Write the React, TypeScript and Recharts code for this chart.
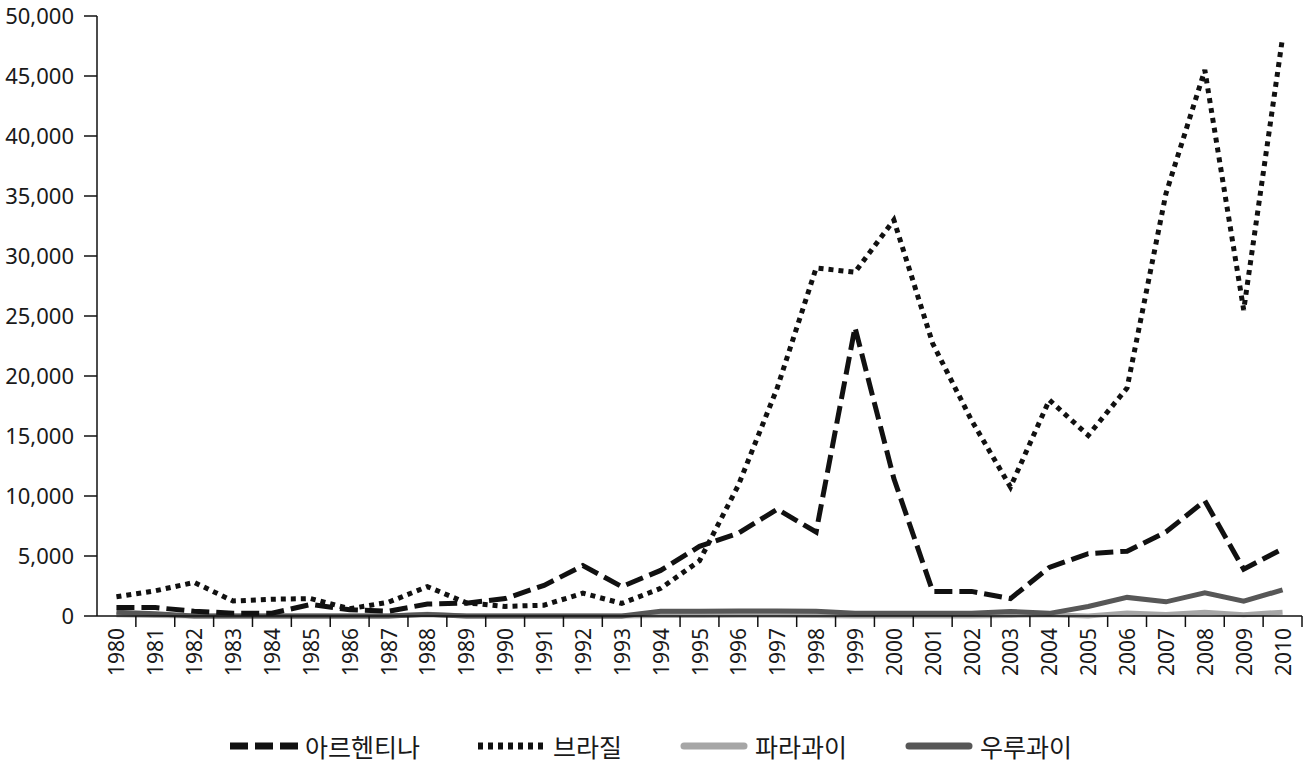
import { LineChart, Line, XAxis, YAxis, Legend } from 'recharts';

// 연도 (x축 카테고리)
const years = [
  '1980', '1981', '1982', '1983', '1984', '1985', '1986', '1987', '1988', '1989',
  '1990', '1991', '1992', '1993', '1994', '1995', '1996', '1997', '1998', '1999',
  '2000', '2001', '2002', '2003', '2004', '2005', '2006', '2007', '2008', '2009', '2010',
];

// values
const argentina = [
  700, 700, 400, 230, 230, 960, 520, 400, 1000, 1070,
  1450, 2550, 4200, 2450, 3800, 5800, 6900, 8900, 7000, 24050,
  11450, 2050, 2050, 1450, 4050, 5200, 5400, 7000, 9600, 3900, 5600,
];
const brazil = [
  1600, 2100, 2800, 1250, 1400, 1450, 600, 1150, 2450, 1100,
  800, 900, 1900, 1050, 2300, 4600, 10900, 19000, 29000, 28650,
  33000, 22700, 16300, 10750, 18000, 15050, 19000, 35200, 45500, 25500, 48200,
];
const paraguay = [
  100, 50, 0, 0, 0, 0, 0, 0, 150, 0,
  0, 0, 0, 0, 40, 40, 60, 60, 40, 0,
  0, 0, 0, 50, 100, 0, 260, 120, 320, 100, 320,
];
const uruguay = [
  320, 180, 0, 0, 0, 0, 0, 0, 120, 0,
  0, 0, 0, 0, 400, 400, 420, 420, 400, 230,
  230, 230, 230, 380, 220, 790, 1550, 1180, 1930, 1230, 2180,
];

const yTicks = [0, 5000, 10000, 15000, 20000, 25000, 30000, 35000, 40000, 45000, 50000];

const seriesNames = ['아르헨티나', '브라질', '파라과이', '우루과이'];

const data = years.map((year, i) => ({
  year,
  arg: argentina[i],
  bra: brazil[i],
  par: paraguay[i],
  uru: uruguay[i],
}));

const W = 1304;
const H = 762;
const LEFT = 97;
const RIGHT = 2;
const HALF = (W - LEFT - RIGHT) / years.length / 2;

const FONT = '"Noto Sans", "Noto Sans CJK KR", sans-serif';

const YearTick = ({ x, y, payload }: any) => (
  <g>
    <line x1={x + HALF} y1={y} x2={x + HALF} y2={y + 11} stroke="#111" strokeWidth={1.5} />
    <text
      x={x}
      y={y + 12}
      transform={`rotate(-90, ${x}, ${y + 12})`}
      textAnchor="end"
      dominantBaseline="central"
      fontSize={21}
      fill="#1a1a1a"
      fontFamily={FONT}
    >
      {payload.value}
    </text>
  </g>
);

const legendItems = [
  { name: seriesNames[0], color: '#111', dash: '18 7', cap: 'butt' },
  { name: seriesNames[1], color: '#111', dash: '5 5', cap: 'butt' },
  { name: seriesNames[2], color: '#a6a6a6', dash: undefined, cap: 'round' },
  { name: seriesNames[3], color: '#575757', dash: undefined, cap: 'round' },
];

const ChartLegend = () => (
  <div
    style={{
      display: 'flex',
      justifyContent: 'center',
      alignItems: 'center',
      gap: 58,
      height: 76,
      paddingTop: 44,
      boxSizing: 'border-box',
      fontFamily: '"Noto Sans CJK KR", sans-serif',
      fontSize: 25,
      color: '#1a1a1a',
    }}
  >
    {legendItems.map((it) => (
      <div key={it.name} style={{ display: 'flex', alignItems: 'center', gap: 7 }}>
        <svg width={68} height={12}>
          <line
            x1={it.cap === 'round' ? 4 : 0}
            y1={6}
            x2={it.cap === 'round' ? 64 : 68}
            y2={6}
            stroke={it.color}
            strokeWidth={7}
            strokeDasharray={it.dash}
            strokeLinecap={it.cap as any}
          />
        </svg>
        <span style={{ lineHeight: '30px' }}>{it.name}</span>
      </div>
    ))}
  </div>
);

export default function App() {
  return (
    <div style={{ width: W, height: H, background: '#fff' }}>
      <style>{`body { margin: 0; }`}</style>
      <LineChart
        width={W}
        height={H}
        data={data}
        margin={{ top: 16, right: RIGHT, left: 0, bottom: 0 }}
      >
        <XAxis
          dataKey="year"
          interval={0}
          padding={{ left: HALF, right: HALF }}
          height={70}
          tickLine={false}
          tickSize={0}
          tickMargin={0}
          axisLine={{ stroke: '#111', strokeWidth: 1.5 }}
          tick={<YearTick />}
        />
        <YAxis
          width={LEFT}
          domain={[0, 50000]}
          ticks={yTicks}
          interval={0}
          tickFormatter={(v: number) => v.toLocaleString('en-US')}
          tick={{ fontSize: 22, fill: '#1a1a1a', fontFamily: FONT }}
          tickSize={13}
          tickMargin={10}
          tickLine={{ stroke: '#111', strokeWidth: 1.5 }}
          axisLine={{ stroke: '#111', strokeWidth: 1.5 }}
        />
        <Legend verticalAlign="bottom" content={() => <ChartLegend />} />
        <Line
          type="linear"
          dataKey="par"
          name={seriesNames[2]}
          stroke="#a6a6a6"
          strokeWidth={5}
          dot={false}
          isAnimationActive={false}
        />
        <Line
          type="linear"
          dataKey="uru"
          name={seriesNames[3]}
          stroke="#575757"
          strokeWidth={5}
          dot={false}
          isAnimationActive={false}
        />
        <Line
          type="linear"
          dataKey="bra"
          name={seriesNames[1]}
          stroke="#111"
          strokeWidth={5}
          strokeDasharray="5 5"
          dot={false}
          isAnimationActive={false}
        />
        <Line
          type="linear"
          dataKey="arg"
          name={seriesNames[0]}
          stroke="#111"
          strokeWidth={5}
          strokeDasharray="18 7"
          dot={false}
          isAnimationActive={false}
        />
      </LineChart>
    </div>
  );
}
